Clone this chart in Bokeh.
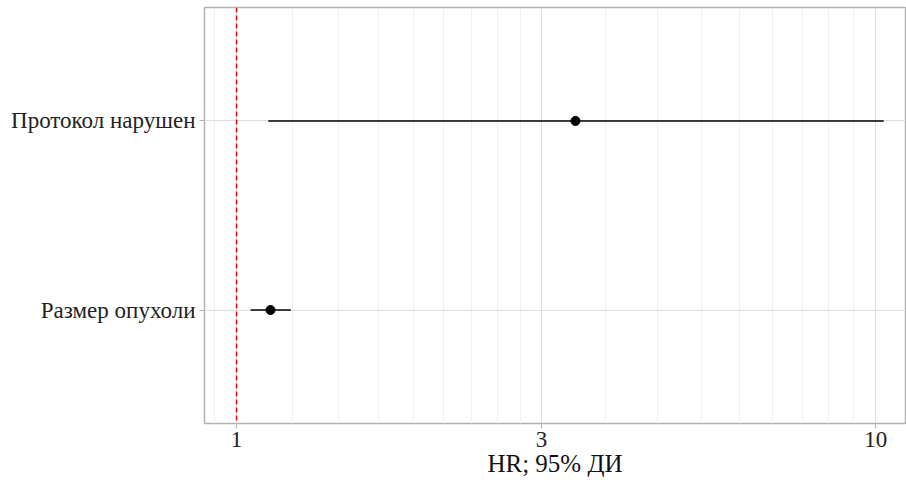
from bokeh.plotting import figure
from bokeh.models import Range1d, FactorRange, FixedTicker, Span, ColumnDataSource, PrintfTickFormatter
from bokeh.embed import file_html
from bokeh.resources import INLINE

# Data
categories = ["Размер опухоли", "Протокол нарушен"]
hr = [1.13, 3.39]
lower = [1.052, 1.121]
upper = [1.216, 10.29]

x_ticks = [1, 3, 10]
x_minor = [0.3 + 0.7 * i / 9 for i in range(1, 9)] + \
          [1 + 2 * i / 9 for i in range(1, 9)] + \
          [3 + 7 * i / 9 for i in range(1, 9)]

FONT = "Liberation Serif"

src = ColumnDataSource(dict(cat=categories, hr=hr, lo=lower, hi=upper))

p = figure(width=906, height=485, output_backend="svg", toolbar_location=None,
           x_axis_type="log",
           x_range=Range1d(0.891, 11.13),
           y_range=FactorRange(factors=categories, range_padding=0.1,
                               range_padding_units="absolute"),
           min_border_left=204, min_border_right=1, min_border_top=7,
           min_border_bottom=62)

p.segment(x0="lo", x1="hi", y0="cat", y1="cat", source=src,
          line_color="black", line_width=1.6)
p.scatter(x="hr", y="cat", source=src, size=9, color="black")

p.add_layout(Span(location=1, dimension="height", line_color="red",
                  line_dash="5 3", line_width=1.5))

p.xaxis.ticker = FixedTicker(ticks=x_ticks, minor_ticks=x_minor)
p.xaxis.formatter = PrintfTickFormatter(format="%d")
p.xaxis.axis_label = "HR; 95% ДИ"

p.outline_line_color = "#b3b3b3"
p.outline_line_width = 1.5

for ax in (p.xaxis, p.yaxis):
    ax.axis_line_color = None
    ax.major_tick_line_color = "#b3b3b3"
    ax.major_tick_in = 0
    ax.major_tick_out = 5
    ax.minor_tick_line_color = None
    ax.major_label_text_font = FONT
    ax.major_label_text_font_size = "23px"
    ax.major_label_text_color = "#222222"
    ax.axis_label_text_font = FONT
    ax.axis_label_text_font_size = "25px"
    ax.axis_label_text_font_style = "normal"
    ax.axis_label_text_color = "#111111"

p.xaxis.major_label_standoff = 3
p.xaxis.axis_label_standoff = 0
p.yaxis.major_label_standoff = 4

p.xgrid.grid_line_color = "#dedede"
p.xgrid.grid_line_width = 1
p.xgrid.minor_grid_line_color = "#f0f0f0"
p.xgrid.minor_grid_line_width = 1
p.ygrid.grid_line_color = "#dedede"
p.ygrid.grid_line_width = 1

open("out.html", "w").write(file_html(p, INLINE))
